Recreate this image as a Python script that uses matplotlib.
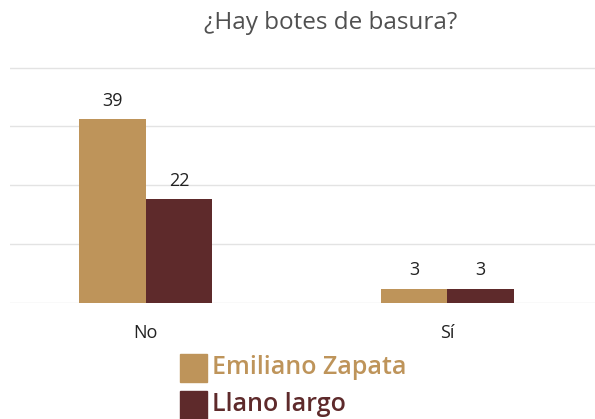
import numpy as np
import matplotlib.pyplot as plt
from matplotlib.patches import Rectangle

# Data
categories = ['No', 'Sí']
series_names = ['Emiliano Zapata', 'Llano largo']
emiliano = [39, 3]
llano = [22, 3]
colors = ['#BE945A', '#5E2A2B']

plt.rcParams['font.family'] = ['Open Sans', 'DejaVu Sans']

fig = plt.figure(figsize=(5.95, 4.19), dpi=100)
ax = fig.add_axes([0.017, 0.277, 0.983, 0.565])

x = np.arange(len(categories))
w = 0.22
b1 = ax.bar(x - w / 2, emiliano, w, color=colors[0])
b2 = ax.bar(x + w / 2, llano, w, color=colors[1])

for bars in (b1, b2):
    for rect in bars:
        h = rect.get_height()
        ax.annotate(f'{h:g}', (rect.get_x() + rect.get_width() / 2, h),
                    xytext=(0, 7), textcoords='offset points',
                    ha='center', va='bottom', fontsize=13, color='#222222')

ax.set_xlim(-0.45, 1.49)
ax.set_ylim(0, 50.3)
ax.set_yticks([0, 12.5, 25, 37.5, 50])
ax.yaxis.grid(True, color='#E3E3E3', linewidth=1)
ax.set_axisbelow(True)
ax.tick_params(left=False, labelleft=False, bottom=False)
ax.set_xticks(x)
ax.set_xticklabels(categories, fontsize=13, color='#222222')
ax.tick_params(axis='x', pad=12)
for s in ax.spines.values():
    s.set_visible(False)

fig.text(0.555, 0.945, '¿Hay botes de basura?', ha='center', va='center',
         fontsize=17.5, color='#505050', fontweight='medium')

# Legend (square + coloured label)
for i, name in enumerate(series_names):
    y = 0.122 - i * 0.088
    fig.patches.append(Rectangle((0.303, y - 0.034), 0.045, 0.066,
                                 transform=fig.transFigure, color=colors[i]))
    fig.text(0.356, y, name, ha='left', va='center', fontsize=18,
             color=colors[i], fontweight='semibold')

fig.savefig('out.png', dpi=100)
